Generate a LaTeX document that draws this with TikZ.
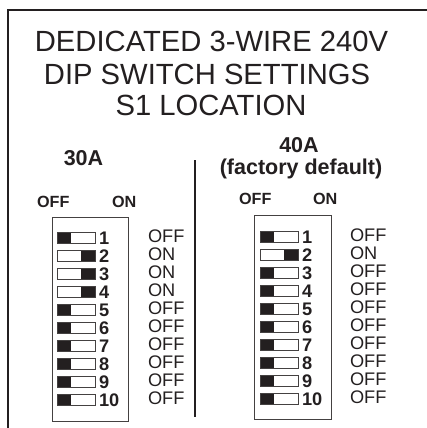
\documentclass[tikz,border=0pt]{standalone}
\usepackage{fontspec}
\setmainfont{Liberation Sans}
\definecolor{ink}{HTML}{231F20}
\begin{document}
\begin{tikzpicture}[x=1pt,y=-1pt,
  every node/.style={inner sep=0pt,outer sep=0pt,text=ink},
  title/.style={anchor=base,font=\fontsize{29.2}{31}\selectfont},
  head/.style={anchor=base,font=\fontsize{21.5}{23}\selectfont\bfseries},
  sub/.style={anchor=base west,font=\fontsize{16.2}{18}\selectfont\bfseries},
  num/.style={anchor=base west,font=\fontsize{18.2}{20}\selectfont\bfseries},
  lab/.style={anchor=base west,font=\fontsize{18.2}{20}\selectfont},
  box/.style={draw=ink!85,line width=1pt,rectangle},
  sw/.style={draw=ink!85,line width=0.8pt,rectangle,minimum width=38pt,minimum height=10.5pt,fill=white},
  swoff/.style={path picture={\fill[ink] (path picture bounding box.south west) rectangle ([xshift=14pt]path picture bounding box.north west);}},
  swon/.style={path picture={\fill[ink] (path picture bounding box.south east) rectangle ([xshift=-14pt]path picture bounding box.north east);}}
]
\useasboundingbox (0,0) rectangle (426,428);
% outer frame
\draw[ink,line width=2.5pt] (8,440) -- (8,10) -- (440,10);
% title
\node[title] (t1) at (211.5,52) {DEDICATED 3-WIRE 240V};
\node[title] (t2) at (207,84) {DIP SWITCH SETTINGS};
\node[title] (t3) at (211,115) {S1 LOCATION};
% divider
\draw[ink,line width=1.5pt] (195,160) -- (195,417);
% left group
\node[head] (h30) at (83.5,165) {30A};
\node[sub] (loff) at (37,207) {OFF};
\node[sub] (lon) at (112,207) {ON};
\node[box,minimum width=76pt,minimum height=204pt] (LB) at (90,319) {};
\foreach \i/\st/\txt in {1/off/OFF,2/on/ON,3/on/ON,4/on/ON,5/off/OFF,6/off/OFF,7/off/OFF,8/off/OFF,9/off/OFF,10/off/OFF}{
  \node[sw,sw\st] (L\i) at (76,{238+(\i-1)*18}) {};
  \node[num] (Ln\i) at (99,{244+(\i-1)*18}) {\i};
  \node[lab] (Ll\i) at (148,{242+(\i-1)*18}) {\txt};
}
% right group
\node[head] (h40) at (299,152) {40A};
\node[head] (hfd) at (301,174) {(factory default)};
\node[sub] (roff) at (239,204) {OFF};
\node[sub] (ron) at (313,204) {ON};
\node[box,minimum width=77pt,minimum height=204pt] (RB) at (292.5,317) {};
\foreach \i/\st/\txt in {1/off/OFF,2/on/ON,3/off/OFF,4/off/OFF,5/off/OFF,6/off/OFF,7/off/OFF,8/off/OFF,9/off/OFF,10/off/OFF}{
  \node[sw,sw\st] (R\i) at (279,{237+(\i-1)*18}) {};
  \node[num] (Rn\i) at (302,{243+(\i-1)*18}) {\i};
  \node[lab] (Rl\i) at (350,{241+(\i-1)*18}) {\txt};
}
\end{tikzpicture}
\end{document}
